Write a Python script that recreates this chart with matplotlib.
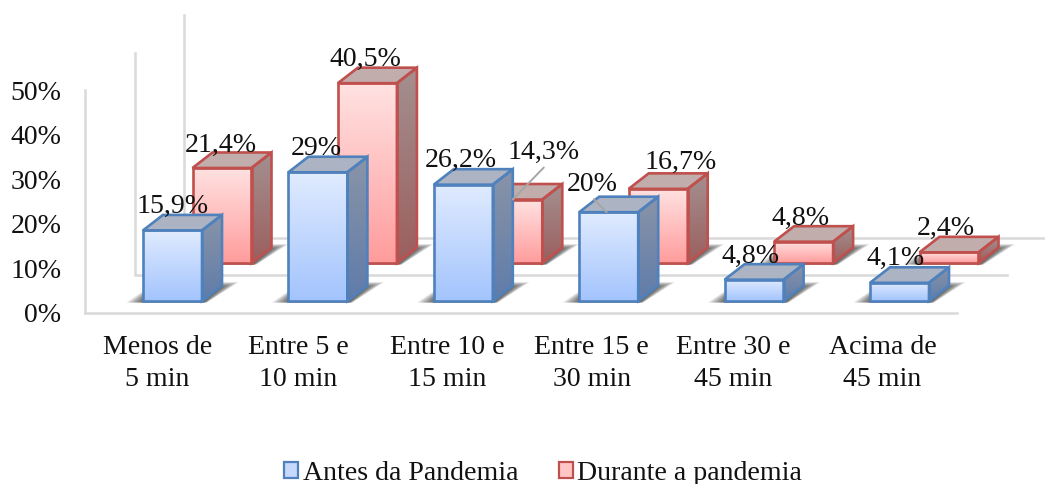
import numpy as np
import matplotlib
matplotlib.use("Agg")
import matplotlib.pyplot as plt
from matplotlib.colors import to_rgb
from matplotlib.patches import Patch, Polygon
from matplotlib.transforms import ScaledTranslation

categories = ["Menos de\n5 min", "Entre 5 e\n10 min", "Entre 10 e\n15 min",
              "Entre 15 e\n30 min", "Entre 30 e\n45 min", "Acima de\n45 min"]
antes = [15.9, 29, 26.2, 20, 4.8, 4.1]
durante = [21.4, 40.5, 14.3, 16.7, 4.8, 2.4]
antes_labels = ["15,9%", "29%", "26,2%", "20%", "4,8%", "4,1%"]
durante_labels = ["21,4%", "40,5%", "14,3%", "16,7%", "4,8%", "2,4%"]
series_names = ["Antes da Pandemia", "Durante a pandemia"]
y_ticks = [0, 10, 20, 30, 40, 50]

W, H = 1045, 484
plt.rcParams["font.family"] = ["Liberation Serif", "DejaVu Serif"]
FONT = 20.1
INK = "#111111"
WALL = "#D9D9D9"

fig = plt.figure(figsize=(W / 100, H / 100), dpi=100, facecolor="white")
ax = fig.add_axes([85 / W, (H - 312.5) / H, 872 / W, 222 / H])

# Pixel scale of the category and percent axes, used for the oblique projection.
PX_X, PX_Y = 145.4, 4.44
XLIM = ((85 - 172.5) / PX_X, (957 - 172.5) / PX_X)
BAR_W = 59 / PX_X
SIDE_X, SIDE_Y = 20 / PX_X, 15.5 / PX_Y
ROW_X, ROW_Y = 49.5 / PX_X, 38 / PX_Y
FLOOR_Y = 11.5 / PX_Y
WALL_X, WALL_Y = 49.5 / PX_X, 37.5 / PX_Y


def gradient(top, bottom):
    t = np.linspace(0, 1, 128)[:, None, None]
    return (1 - t) * np.array(to_rgb(top)) + t * np.array(to_rgb(bottom))


def shaded_poly(pts, top, bottom, z):
    pts = np.array(pts)
    img = ax.imshow(gradient(top, bottom), aspect="auto", interpolation="bilinear", zorder=z,
                    extent=(pts[:, 0].min(), pts[:, 0].max(), pts[:, 1].min(), pts[:, 1].max()))
    # Faces may rise above the axes frame, so images are limited by the figure only.
    img.set_clip_box(fig.bbox)
    img.set_clip_path(Polygon(pts, closed=True, transform=ax.transData))


def draw_shadow(x0, y0, z):
    # Soft floor shadow: stacked translucent outlines shrinking towards the bar.
    x1 = x0 + BAR_W
    for g in np.linspace(1.0, 0.0, 20):
        outline = [(x0, -17 * g, -1.5), (x1, 2 + 3 * g, -1.5), (x1, 20 + 17 * g, 14 + 5 * g),
                   (x1, 0, 14 + 5 * g), (x0, 0, 2 + 8 * g)]
        pts = [(a + dx / PX_X, y0 + dy / PX_Y) for a, dx, dy in outline]
        ax.add_patch(Polygon(pts, closed=True, facecolor="#303030", edgecolor="none",
                             alpha=0.055, zorder=z, clip_on=False))


def draw_bar(x0, y0, value, style, z):
    x1, y1 = x0 + BAR_W, y0 + value
    draw_shadow(x0, y0, z)
    front = [(x0, y0), (x1, y0), (x1, y1), (x0, y1)]
    side = [(x1, y0), (x1 + SIDE_X, y0 + SIDE_Y), (x1 + SIDE_X, y1 + SIDE_Y), (x1, y1)]
    roof = [(x0, y1), (x1, y1), (x1 + SIDE_X, y1 + SIDE_Y), (x0 + SIDE_X, y1 + SIDE_Y)]
    shaded_poly(front, style["front_top"], style["front_bottom"], z + 0.1)
    shaded_poly(side, style["side_top"], style["side_bottom"], z + 0.1)
    for pts, fill in ((roof, style["roof"]), (side, "none"), (front, "none")):
        ax.add_patch(Polygon(pts, closed=True, facecolor=fill, edgecolor=style["edge"],
                             linewidth=1.9, joinstyle="miter", zorder=z + 0.2, clip_on=False))


blue = dict(front_top="#E0EBFF", front_bottom="#A3C4FD", side_top="#8994A8", side_bottom="#5F7CAA",
            roof="#ACB3C2", edge="#4F81BD")
red = dict(front_top="#FFE2E2", front_bottom="#FF9C9C", side_top="#A49090", side_bottom="#9C5E5E",
           roof="#C2ADAD", edge="#C0504D")

# Back and side walls of the 3D frame, drawn one and two rows behind the axes.
for k in (1, 2):
    xs = [XLIM[0] + k * WALL_X, XLIM[0] + k * WALL_X, XLIM[1] + k * WALL_X]
    ys = [50 + k * WALL_Y, k * WALL_Y, k * WALL_Y]
    ax.plot(xs, ys, color=WALL, lw=1.8, zorder=0.5, clip_on=False, solid_joinstyle="miter")

positions = np.arange(len(categories))
for i in positions:
    draw_bar(i - BAR_W / 2 + ROW_X, FLOOR_Y + ROW_Y, durante[i], red, 2 + 0.1 * i)
for i in positions:
    draw_bar(i - BAR_W / 2, FLOOR_Y, antes[i], blue, 4 + 0.1 * i)

# Value labels sit above the front face; offsets are in pixels.
antes_offsets = [(0, 24), (-2, 24), (-2, 24), (-16, 28), (-4, 23.5), (-4, 24)]
durante_offsets = [(-1, 23), (-2, 24), (31, 47.5), (22, 26), (-3, 23), (-3, 24)]
for i in positions:
    ax.annotate(antes_labels[i], (i, FLOOR_Y + antes[i]), xytext=antes_offsets[i], textcoords="offset pixels",
                ha="center", va="center", fontsize=FONT, color=INK, zorder=8, annotation_clip=False)
    ax.annotate(durante_labels[i], (i + ROW_X, FLOOR_Y + ROW_Y + durante[i]), xytext=durante_offsets[i],
                textcoords="offset pixels", ha="center", va="center", fontsize=FONT, color=INK, zorder=8,
                annotation_clip=False)

# Leader lines for the two labels moved away from their bars.
leader = dict(arrowstyle="-", color="#A6A6A6", lw=1.4, shrinkA=0, shrinkB=0)
ax.annotate("", (2 + ROW_X, FLOOR_Y + ROW_Y + durante[2]), xytext=(31, 32), textcoords="offset pixels",
            arrowprops=leader, zorder=8, annotation_clip=False)
ax.annotate("", (3 - 2 / PX_X, FLOOR_Y + antes[3]), xytext=(-13, 13), textcoords="offset pixels",
            arrowprops=leader, zorder=8, annotation_clip=False)

ax.set_xlim(*XLIM)
ax.set_ylim(0, 50)
ax.patch.set_alpha(0)
for name in ("top", "right"):
    ax.spines[name].set_visible(False)
for name in ("left", "bottom"):
    ax.spines[name].set_color(WALL)
    ax.spines[name].set_linewidth(1.8)
    ax.spines[name].set_zorder(0.6)

ax.set_yticks(y_ticks, [f"{t}%" for t in y_ticks], fontsize=FONT, color=INK)
ax.set_xticks(positions, categories, fontsize=FONT, color=INK, linespacing=1.36)
ax.tick_params(axis="y", length=0, pad=17)
ax.tick_params(axis="x", length=0, pad=16.5)
label_shift = [-15, -20, -16, -17, -21, -17]
for tick, shift in zip(ax.get_xticklabels(), label_shift):
    tick.set_transform(tick.get_transform() + ScaledTranslation(shift / 100, 0, fig.dpi_scale_trans))

handles = [Patch(facecolor="#C6D9FD", edgecolor="#4F81BD", linewidth=1.6),
           Patch(facecolor="#FFC6C6", edgecolor="#C0504D", linewidth=1.6)]
fig.legend(handles, series_names, loc="center", bbox_to_anchor=(543 / W, 1 - 473 / H), ncols=2, frameon=False,
           fontsize=FONT, labelcolor=INK, handlelength=0.5, handleheight=0.5, handletextpad=0.15,
           columnspacing=1.45, borderpad=0, borderaxespad=0)

fig.savefig("out.png", dpi=100, facecolor="white")
